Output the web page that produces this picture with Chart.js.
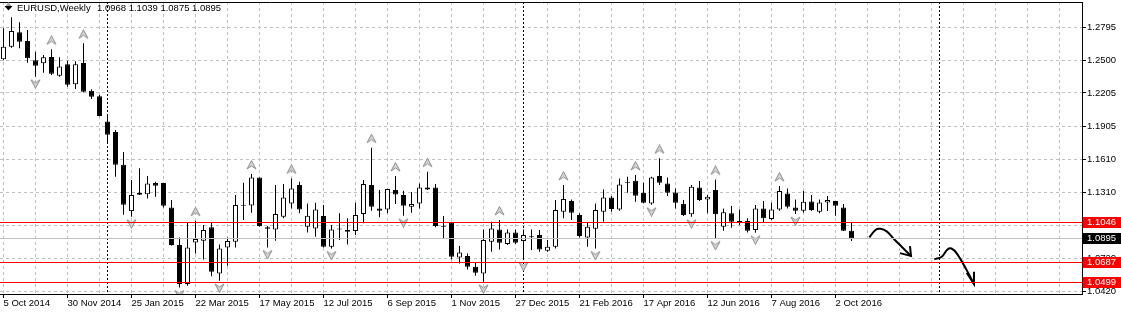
<!DOCTYPE html>
<html>
<head>
<meta charset="utf-8">
<title>EURUSD Weekly</title>
<script src="https://cdn.jsdelivr.net/npm/chart.js@4.4.0/dist/chart.umd.min.js"></script>
<style>
  html, body { margin: 0; padding: 0; background: #fff; }
  #wrap { width: 1121px; height: 315px; }
</style>
</head>
<body>
<div id="wrap"><canvas id="eurusdChart" width="1121" height="315"></canvas></div>
<script>
// Weekly bars, index 0 = week of 5 Oct 2014, last = week of 16 Oct 2016
const opens = [
  1.2507, 1.2621, 1.2750, 1.2672, 1.2498, 1.2471, 1.2528, 1.2360, 1.2462, 1.2283,
  1.2474, 1.2226, 1.2175, 1.1950, 1.1854, 1.1561, 1.1144, 1.1290, 1.1296, 1.1396,
  1.1396, 1.1177, 1.0839, 1.0489, 1.0863, 1.0878, 1.0998, 1.0584, 1.0818, 1.0869,
  1.1198, 1.1195, 1.1447, 1.0998, 1.0980, 1.1094, 1.1213, 1.1378, 1.1004, 1.0989,
  1.1100, 1.0824, 1.0983, 1.0974, 1.0965, 1.1118, 1.1378, 1.1168, 1.1159, 1.1333,
  1.1288, 1.1183, 1.1213, 1.1357, 1.1357, 1.1010, 1.1040, 1.0728, 1.0740, 1.0644,
  1.0584, 1.0869, 1.0980, 1.0848, 1.0953, 1.0875, 1.0914, 1.0929, 1.0788, 1.0824,
  1.1139, 1.1234, 1.1109, 1.0908, 1.0986, 1.1139, 1.1267, 1.1159, 1.1402, 1.1417,
  1.1309, 1.1213, 1.1459, 1.1393, 1.1312, 1.1207, 1.1115, 1.1357, 1.1249, 1.1333,
  1.1004, 1.1124, 1.1055, 1.1055, 1.0974, 1.1168, 1.1073, 1.1159, 1.1303, 1.1177,
  1.1147, 1.1231, 1.1139, 1.1222, 1.1234, 1.1177, 1.0968
];
const highs = [
  1.2786, 1.2885, 1.2840, 1.2771, 1.2576, 1.2546, 1.2597, 1.2525, 1.2495, 1.2489,
  1.2651, 1.2238, 1.2187, 1.1998, 1.1872, 1.1675, 1.1423, 1.1528, 1.1459, 1.1408,
  1.1396, 1.1243, 1.0908, 1.1040, 1.1058, 1.1019, 1.1040, 1.0845, 1.0908, 1.1288,
  1.1399, 1.1477, 1.1447, 1.1010, 1.1378, 1.1387, 1.1438, 1.1408, 1.1213, 1.1219,
  1.1198, 1.1019, 1.1124, 1.1079, 1.1219, 1.1423, 1.1714, 1.1333, 1.1345, 1.1459,
  1.1327, 1.1315, 1.1393, 1.1498, 1.1387, 1.1100, 1.1040, 1.0830, 1.0764, 1.0680,
  1.0980, 1.1049, 1.1064, 1.0980, 1.0980, 1.0980, 1.0980, 1.0974, 1.0884, 1.1243,
  1.1378, 1.1249, 1.1124, 1.1040, 1.1213, 1.1339, 1.1279, 1.1438, 1.1453, 1.1468,
  1.1399, 1.1453, 1.1618, 1.1447, 1.1348, 1.1243, 1.1378, 1.1414, 1.1288, 1.1429,
  1.1168, 1.1189, 1.1159, 1.1079, 1.1198, 1.1234, 1.1219, 1.1369, 1.1348, 1.1249,
  1.1324, 1.1288, 1.1249, 1.1279, 1.1234, 1.1207, 1.1039
];
const lows = [
  1.2500, 1.2612, 1.2606, 1.2477, 1.2351, 1.2387, 1.2366, 1.2351, 1.2262, 1.2241,
  1.2210, 1.2151, 1.1995, 1.1759, 1.1453, 1.1112, 1.1094, 1.1288, 1.1258, 1.1273,
  1.1177, 1.0833, 1.0459, 1.0474, 1.0764, 1.0710, 1.0560, 1.0518, 1.0653, 1.0818,
  1.1064, 1.1130, 1.1004, 1.0818, 1.0878, 1.1079, 1.1168, 1.1124, 1.0953, 1.0914,
  1.0818, 1.0809, 1.0884, 1.0845, 1.0929, 1.1034, 1.1147, 1.1088, 1.1124, 1.1207,
  1.1103, 1.1130, 1.1168, 1.1333, 1.0998, 1.0893, 1.0710, 1.0674, 1.0620, 1.0563,
  1.0509, 1.0779, 1.0800, 1.0839, 1.0848, 1.0711, 1.0794, 1.0779, 1.0779, 1.0809,
  1.1079, 1.1064, 1.0908, 1.0824, 1.0809, 1.1049, 1.1139, 1.1147, 1.1309, 1.1228,
  1.1213, 1.1202, 1.1378, 1.1279, 1.1168, 1.1100, 1.1094, 1.1234, 1.1124, 1.0899,
  1.0968, 1.0995, 1.1019, 1.0953, 1.0950, 1.1040, 1.1064, 1.1147, 1.1168, 1.1118,
  1.1130, 1.1144, 1.1124, 1.1144, 1.1103, 1.0965, 1.0875
];
const closes = [
  1.2621, 1.2762, 1.2666, 1.2516, 1.2450, 1.2525, 1.2378, 1.2444, 1.2280, 1.2462,
  1.2217, 1.2172, 1.1998, 1.1830, 1.1561, 1.1201, 1.1288, 1.1309, 1.1393, 1.1372,
  1.1192, 1.0839, 1.0489, 1.0818, 1.0893, 1.0974, 1.0599, 1.0809, 1.0875, 1.1198,
  1.1192, 1.1447, 1.1010, 1.0986, 1.1118, 1.1267, 1.1348, 1.1159, 1.1103, 1.1159,
  1.0824, 1.0980, 1.0980, 1.0959, 1.1109, 1.1387, 1.1183, 1.1147, 1.1342, 1.1294,
  1.1192, 1.1207, 1.1357, 1.1339, 1.1010, 1.1004, 1.0734, 1.0773, 1.0644, 1.0590,
  1.0884, 1.0989, 1.0860, 1.0953, 1.0860, 1.0929, 1.0910, 1.0800, 1.0824, 1.1153,
  1.1252, 1.1130, 1.0920, 1.1004, 1.1153, 1.1267, 1.1162, 1.1384, 1.1399, 1.1282,
  1.1219, 1.1447, 1.1399, 1.1309, 1.1219, 1.1109, 1.1363, 1.1243, 1.1273, 1.1115,
  1.1133, 1.1049, 1.1034, 1.0968, 1.1168, 1.1079, 1.1159, 1.1324, 1.1183, 1.1147,
  1.1228, 1.1153, 1.1222, 1.1243, 1.1192, 1.0968, 1.0895
];

// Bill Williams fractals (bar indexes)
const fractalUp = [6, 10, 24, 31, 36, 46, 49, 53, 62, 70, 79, 82, 89, 97];
const fractalDown = [4, 16, 22, 27, 33, 41, 50, 60, 65, 74, 81, 86, 89, 94, 99];

// Axis ticks
const yTicks = [1.2795, 1.2500, 1.2205, 1.1905, 1.1610, 1.1310, 1.1015, 1.0720, 1.0420];
const dateLabels = [
  '5 Oct 2014', '30 Nov 2014', '25 Jan 2015', '22 Mar 2015', '17 May 2015',
  '12 Jul 2015', '6 Sep 2015', '1 Nov 2015', '27 Dec 2015', '21 Feb 2016',
  '17 Apr 2016', '12 Jun 2016', '7 Aug 2016', '2 Oct 2016'
];

// Horizontal levels and year separators
const redLevels = [1.1046, 1.0687, 1.0499];
const bidLevel = 1.0895;
const yearSeparators = [13, 65, 117];

// Hand drawn forecast arrows: [bar index, price]
const arrow1 = [[108.23, 1.0908], [109.0, 1.0975], [109.6, 1.0985], [110.4, 1.0962], [111.3, 1.0893], [112.3, 1.0822], [113.44, 1.0741]];
const arrow1Head = [[112.06, 1.0767], [113.44, 1.0741], [113.31, 1.0830]];
const arrow2 = [[116.35, 1.0711], [117.28, 1.0734], [118.0, 1.0800], [118.5, 1.0808], [119.2, 1.0760], [120.4, 1.0614], [121.31, 1.0489]];
const arrow2Head = [[120.4, 1.0590], [121.31, 1.0489], [121.31, 1.0599]];

const FONT = '"Liberation Sans", Arial, sans-serif';
const FONT_SIZE = 9.5;
Chart.defaults.font.family = FONT;
Chart.defaults.font.size = FONT_SIZE;
Chart.defaults.color = '#000';

const last = opens.length - 1;
const idx = opens.map((_, i) => i);
const bodies = idx.map(i => ({ x: i, y: [opens[i], closes[i]] }));
const wicks = idx.map(i => ({ x: i, y: [lows[i], highs[i]] }));
const bodyFill = idx.map(i => (closes[i] > opens[i] ? '#ffffff' : '#000000'));

// Gray fractal arrowhead drawn into a small canvas used as point style
function makeFractalMarker(up) {
  const c = document.createElement('canvas');
  c.width = 11;
  c.height = up ? 28 : 24;
  const g = c.getContext('2d');
  g.beginPath();
  if (up) {
    g.moveTo(5.5, 0.5); g.lineTo(10, 9); g.lineTo(5.5, 6); g.lineTo(1, 9);
  } else {
    g.moveTo(5.5, 23.5); g.lineTo(10, 15); g.lineTo(5.5, 18); g.lineTo(1, 15);
  }
  g.closePath();
  g.fillStyle = '#d6d6d6';
  g.fill();
  g.strokeStyle = '#8c8c8c';
  g.lineWidth = 1;
  g.stroke();
  return c;
}

const toXY = pts => pts.map(p => ({ x: p[0], y: p[1] }));

const overlayPlugin = {
  id: 'mtOverlay',
  beforeDatasetsDraw(chart) {
    const { ctx, chartArea: a, scales: { x } } = chart;
    ctx.save();
    ctx.strokeStyle = '#000';
    ctx.lineWidth = 1;
    ctx.setLineDash([2, 2]);
    yearSeparators.forEach(k => {
      const px = Math.round(x.getPixelForValue(k) - 0.5) + 0.5;
      ctx.beginPath();
      ctx.moveTo(px, a.top);
      ctx.lineTo(px, a.bottom);
      ctx.stroke();
    });
    ctx.restore();
  },
  afterDatasetsDraw(chart) {
    const { ctx, chartArea: a, scales: { y } } = chart;
    ctx.save();

    // price lines
    const hline = (v, color) => {
      const py = Math.floor(y.getPixelForValue(v)) + 0.5;
      ctx.strokeStyle = color;
      ctx.lineWidth = 1;
      ctx.beginPath();
      ctx.moveTo(a.left, py);
      ctx.lineTo(a.right, py);
      ctx.stroke();
    };
    hline(bidLevel, '#c0c0c0');
    redLevels.forEach(v => hline(v, '#ff0000'));

    // price boxes on the right scale
    const box = (v, color) => {
      const py = Math.floor(y.getPixelForValue(v));
      ctx.fillStyle = color;
      ctx.fillRect(a.right + 1, py - 5, chart.width - a.right - 1, 11);
      ctx.fillStyle = '#fff';
      ctx.font = `${FONT_SIZE}px ${FONT}`;
      ctx.textBaseline = 'middle';
      ctx.textAlign = 'left';
      ctx.fillText(v.toFixed(4), a.right + 5, py + 0.5);
    };
    redLevels.forEach(v => box(v, '#ff0000'));
    box(bidLevel, '#000000');

    // top frame line
    ctx.strokeStyle = '#000';
    ctx.beginPath();
    ctx.moveTo(0, a.top + 0.5);
    ctx.lineTo(a.right + 1, a.top + 0.5);
    ctx.stroke();

    // symbol header
    ctx.fillStyle = '#a0a0a0';
    ctx.beginPath();
    ctx.moveTo(8.5, 2); ctx.lineTo(11.5, 6.5); ctx.lineTo(5.5, 6.5);
    ctx.closePath();
    ctx.fill();
    ctx.fillStyle = '#000';
    ctx.beginPath();
    ctx.moveTo(4.5, 6); ctx.lineTo(12.5, 6); ctx.lineTo(8.5, 10.5);
    ctx.closePath();
    ctx.fill();
    ctx.font = `${FONT_SIZE}px ${FONT}`;
    ctx.textBaseline = 'alphabetic';
    ctx.textAlign = 'left';
    ctx.fillText('EURUSD,Weekly', 17, 11);
    const ohlc = [opens[last], highs[last], lows[last], closes[last]].map(v => v.toFixed(4)).join(' ');
    ctx.fillText(ohlc, 97, 11);
    ctx.restore();
  }
};

const ctx = document.getElementById('eurusdChart').getContext('2d');
new Chart(ctx, {
  type: 'bar',
  data: {
    datasets: [
      {
        label: 'body',
        data: bodies,
        backgroundColor: bodyFill,
        borderColor: '#000',
        borderWidth: 1,
        borderSkipped: false,
        inflateAmount: 0,
        barThickness: 5,
        maxBarThickness: 5,
        minBarLength: 1,
        grouped: false
      },
      {
        label: 'wick',
        data: wicks,
        backgroundColor: '#000',
        borderWidth: 0,
        inflateAmount: 0,
        barThickness: 1,
        maxBarThickness: 1,
        grouped: false
      },
      {
        type: 'line',
        label: 'fractal up',
        data: fractalUp.map(i => ({ x: i, y: highs[i] })),
        showLine: false,
        pointStyle: makeFractalMarker(true),
        pointRadius: 4
      },
      {
        type: 'line',
        label: 'fractal down',
        data: fractalDown.map(i => ({ x: i, y: lows[i] })),
        showLine: false,
        pointStyle: makeFractalMarker(false),
        pointRadius: 4
      },
      { type: 'line', data: toXY(arrow1), borderColor: '#000', borderWidth: 2, tension: 0.4, pointRadius: 0, fill: false },
      { type: 'line', data: toXY(arrow1Head), borderColor: '#000', borderWidth: 2, tension: 0, pointRadius: 0, fill: false },
      { type: 'line', data: toXY(arrow2), borderColor: '#000', borderWidth: 2, tension: 0.4, pointRadius: 0, fill: false },
      { type: 'line', data: toXY(arrow2Head), borderColor: '#000', borderWidth: 2, tension: 0, pointRadius: 0, fill: false }
    ]
  },
  options: {
    responsive: false,
    devicePixelRatio: 1,
    animation: false,
    events: [],
    layout: { autoPadding: false, padding: { top: 2, left: 0, right: 0, bottom: 0 } },
    plugins: {
      legend: { display: false },
      tooltip: { enabled: false }
    },
    scales: {
      x: {
        type: 'linear',
        position: 'bottom',
        min: -0.4375,
        max: 134.8125,
        bounds: 'data',
        offset: false,
        grid: {
          offset: false,
          color: '#c0c0c0',
          tickLength: 4,
          tickColor: c => (c.tick && c.tick.value % 8 === 0 && c.tick.value / 8 < dateLabels.length) ? '#000' : 'rgba(0,0,0,0)'
        },
        border: { display: true, color: '#000', width: 1, dash: [3, 3] },
        ticks: {
          autoSkip: false,
          maxRotation: 0,
          minRotation: 0,
          align: 'start',
          padding: 0,
          callback: v => (v % 8 === 0 && v / 8 < dateLabels.length) ? dateLabels[v / 8] : ''
        },
        afterBuildTicks: scale => {
          const t = [];
          for (let k = 0; k <= 132; k += 4) t.push({ value: k });
          scale.ticks = t;
        },
        afterFit: scale => {
          scale.height = 21;
          scale.paddingLeft = 0;
          scale.paddingRight = 0;
        }
      },
      y: {
        type: 'linear',
        position: 'right',
        min: 1.03996,
        max: 1.30222,
        bounds: 'data',
        beginAtZero: false,
        grid: { color: '#c0c0c0', tickLength: 4, tickColor: '#000' },
        border: { display: true, color: '#000', width: 1, dash: [3, 3] },
        ticks: {
          autoSkip: false,
          padding: 1,
          callback: v => Number(v).toFixed(4)
        },
        afterBuildTicks: scale => {
          scale.ticks = yTicks.map(v => ({ value: v }));
        },
        afterFit: scale => {
          scale.width = 39;
          scale.paddingTop = 0;
          scale.paddingBottom = 0;
        }
      }
    }
  },
  plugins: [overlayPlugin]
});
</script>
</body>
</html>
